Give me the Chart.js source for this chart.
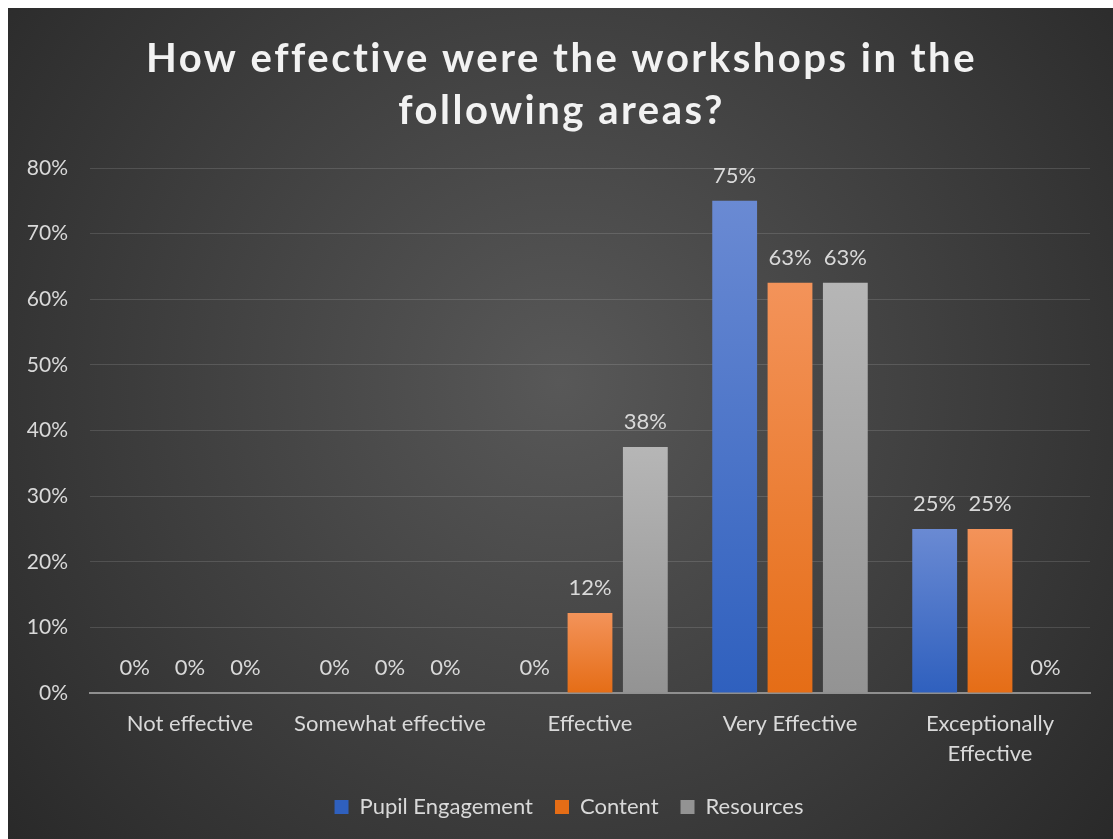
<!DOCTYPE html>
<html>
<head>
<meta charset="utf-8">
<script src="https://cdn.jsdelivr.net/npm/chart.js@4/dist/chart.umd.min.js"></script>
<style>
    html, body { margin: 0; padding: 0; background: #fff; overflow: hidden; }
    #wrap { position: absolute; left: 8px; top: 8px; width: 1105px; height: 831px; }
</style>
</head>
<body>
<div id="wrap"><canvas id="effChart"></canvas></div>
<script>
// Chart data
const titleLines = ['How effective were the workshops in the', 'following areas?'];
const categories = ['Not effective', 'Somewhat effective', 'Effective', 'Very Effective', ['Exceptionally', 'Effective']];
const seriesNames = ['Pupil Engagement', 'Content', 'Resources'];
const pupilEngagement = [0, 0, 0, 75, 25];
const content = [0, 0, 12.2, 62.5, 25];
const resources = [0, 0, 37.5, 62.5, 0];
const yMax = 80;
const yStep = 10;

const FONT = 'Lato, "Open Sans", sans-serif';
const TEXT = '#d9d9d9';

// vertical gradient per bar, light at top
function barGradient(top, bottom, mid) {
    return (ctx) => {
        const chart = ctx.chart;
        if (!chart.chartArea || ctx.type !== 'data') return mid;
        const yScale = chart.scales.y;
        const yTop = yScale.getPixelForValue(ctx.parsed.y);
        const yBase = yScale.getPixelForValue(0);
        if (Math.abs(yBase - yTop) < 1) return bottom;
        const g = chart.ctx.createLinearGradient(0, yTop, 0, yBase);
        g.addColorStop(0, top);
        g.addColorStop(1, bottom);
        return g;
    };
}

// dark radial background + title
const backdrop = {
    id: 'backdrop',
    afterLayout(chart) {
        // legend sits a little right of the canvas centre
        chart.legend.left += 20;
        chart.legend.right += 20;
    },
    beforeDraw(chart) {
        const { ctx, width, height } = chart;
        ctx.save();
        const g = ctx.createRadialGradient(width * 0.5, height * 0.45, 0, width * 0.5, height * 0.45, width * 0.68);
        g.addColorStop(0, '#585858');
        g.addColorStop(1, '#272727');
        ctx.fillStyle = g;
        ctx.fillRect(0, 0, width, height);
        ctx.restore();
    },
    afterDraw(chart) {
        const { ctx, width } = chart;
        ctx.save();
        ctx.fillStyle = '#f2f2f2';
        ctx.font = 'bold 40px ' + FONT;
        ctx.letterSpacing = '2.5px';
        ctx.textAlign = 'center';
        ctx.textBaseline = 'middle';
        titleLines.forEach((line, i) => {
            ctx.fillText(line, width / 2 + 1, 51 + i * 52);
        });
        ctx.restore();
    }
};

// value labels above bars
const valueLabels = {
    id: 'valueLabels',
    afterDatasetsDraw(chart) {
        const ctx = chart.ctx;
        ctx.save();
        ctx.fillStyle = TEXT;
        ctx.font = '22px ' + FONT;
        ctx.textAlign = 'center';
        ctx.textBaseline = 'middle';
        chart.data.datasets.forEach((ds, di) => {
            const meta = chart.getDatasetMeta(di);
            meta.data.forEach((bar, i) => {
                ctx.fillText(Math.round(ds.data[i]) + '%', bar.x, bar.y - 25);
            });
        });
        ctx.restore();
    }
};

const ctx = document.getElementById('effChart').getContext('2d');
const chart = new Chart(ctx, {
    type: 'bar',
    data: {
        labels: categories,
        datasets: [
            {
                label: seriesNames[0],
                data: pupilEngagement,
                backgroundColor: barGradient('#6a8ad3', '#2f60be', '#4472c4')
            },
            {
                label: seriesNames[1],
                data: content,
                backgroundColor: barGradient('#f3935a', '#e56d16', '#ed7d31')
            },
            {
                label: seriesNames[2],
                data: resources,
                backgroundColor: barGradient('#b6b6b6', '#939393', '#a5a5a5')
            }
        ]
    },
    options: {
        responsive: true,
        maintainAspectRatio: false,
        animation: false,
        categoryPercentage: 0.83,
        barPercentage: 0.81,
        layout: { padding: { top: 160, right: 23, bottom: 11, left: 0 } },
        plugins: {
            title: { display: false },
            tooltip: { enabled: false },
            legend: {
                position: 'bottom',
                labels: {
                    color: TEXT,
                    font: { family: FONT, size: 22 },
                    boxWidth: 14,
                    boxHeight: 14,
                    padding: 22
                }
            }
        },
        scales: {
            x: {
                grid: { display: false, drawTicks: false },
                border: { display: true, color: '#8f8f8f', width: 2 },
                ticks: {
                    color: TEXT,
                    font: { family: FONT, size: 22, lineHeight: 1.36 },
                    padding: 16,
                    maxRotation: 0
                },
                afterFit(scale) { scale.height = 81; }
            },
            y: {
                min: 0,
                max: yMax,
                grid: { color: 'rgba(255,255,255,0.13)', lineWidth: 1, drawTicks: false },
                border: { display: false },
                ticks: {
                    stepSize: yStep,
                    color: TEXT,
                    font: { family: FONT, size: 21 },
                    padding: 22,
                    callback: v => v + '%'
                },
                afterFit(scale) { scale.width = 82; }
            }
        }
    },
    plugins: [backdrop, valueLabels]
});
</script>
</body>
</html>
